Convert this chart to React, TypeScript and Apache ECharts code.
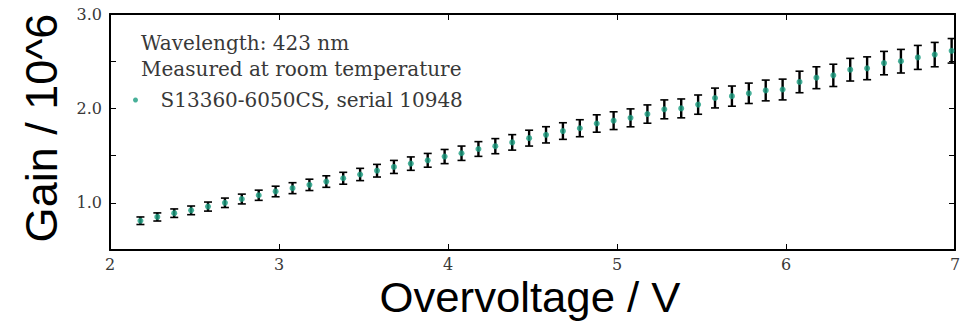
import React, { useEffect, useRef } from "react";
import * as echarts from "echarts";

const voltage = [
  2.18, 2.28, 2.38, 2.48, 2.58, 2.68, 2.78, 2.88, 2.98, 3.08,
  3.18, 3.28, 3.38, 3.48, 3.58, 3.68, 3.78, 3.88, 3.98, 4.08,
  4.18, 4.28, 4.38, 4.48, 4.58, 4.68, 4.78, 4.88, 4.98, 5.08,
  5.18, 5.28, 5.38, 5.48, 5.58, 5.68, 5.78, 5.88, 5.98, 6.08,
  6.18, 6.28, 6.38, 6.48, 6.58, 6.68, 6.78, 6.88, 6.98,
];

const gain = [
  0.81, 0.85, 0.89, 0.92, 0.96, 1.0, 1.04, 1.08, 1.12, 1.155,
  1.19, 1.225, 1.26, 1.3, 1.34, 1.38, 1.415, 1.45, 1.49, 1.525,
  1.57, 1.6, 1.64, 1.685, 1.72, 1.76, 1.79, 1.84, 1.87, 1.9,
  1.94, 1.99, 2.0, 2.04, 2.11, 2.13, 2.16, 2.19, 2.2, 2.28,
  2.325, 2.35, 2.41, 2.425, 2.48, 2.5, 2.54, 2.57, 2.61,
];

const gainErr = [
  0.04, 0.043, 0.045, 0.046, 0.048, 0.05, 0.052, 0.054, 0.056, 0.058,
  0.06, 0.061, 0.063, 0.065, 0.067, 0.069, 0.071, 0.073, 0.075, 0.076,
  0.078, 0.08, 0.082, 0.084, 0.086, 0.088, 0.09, 0.092, 0.094, 0.095,
  0.097, 0.1, 0.1, 0.102, 0.105, 0.107, 0.108, 0.11, 0.11, 0.114,
  0.116, 0.118, 0.12, 0.121, 0.124, 0.125, 0.127, 0.129, 0.13,
];

const legendLines = ["Wavelength: 423 nm", "Measured at room temperature"];
const seriesName = "S13360-6050CS, serial 10948";
const xTitle = "Overvoltage / V";
const yTitle = "Gain / 10^6";

const SERIF = "DejaVu Serif";
const SANS = "Liberation Sans";
const TEXT_GRAY = "#383838";
const TEAL = "#1a9c80";

export default function App() {
  const ref = useRef<HTMLDivElement>(null);

  useEffect(() => {
    if (!ref.current) return;
    const chart = echarts.init(ref.current, undefined, { renderer: "svg" });

    const points = voltage.map((v, i) => [v, gain[i]]);
    const bars = voltage.map((v, i) => [v, gain[i] - gainErr[i], gain[i] + gainErr[i]]);

    const axisLine = { show: true, lineStyle: { color: "#000", width: 2 } };
    const axisTick = { show: true, inside: true, length: 6, lineStyle: { color: "#000", width: 1 } };

    chart.setOption({
      animation: false,
      backgroundColor: "#fff",
      grid: { left: 110, right: 19, top: 14, bottom: 75, containLabel: false },
      xAxis: [
        {
          type: "value",
          min: 2,
          max: 7,
          interval: 1,
          position: "bottom",
          axisLine,
          axisTick,
          splitLine: { show: false },
          axisLabel: { color: TEXT_GRAY, fontFamily: SERIF, fontSize: 16, margin: 6 },
        },
        {
          type: "value",
          min: 2,
          max: 7,
          interval: 1,
          position: "top",
          axisLine,
          axisTick,
          splitLine: { show: false },
          axisLabel: { show: false },
        },
      ],
      yAxis: [
        {
          type: "value",
          min: 0.5,
          max: 3.0,
          interval: 0.5,
          position: "left",
          axisLine,
          axisTick,
          splitLine: { show: false },
          axisLabel: {
            color: TEXT_GRAY,
            fontFamily: SERIF,
            fontSize: 16,
            margin: 8,
            formatter: (v: number) => (Math.abs(v - Math.round(v)) < 1e-9 ? v.toFixed(1) : ""),
          },
        },
        {
          type: "value",
          min: 0.5,
          max: 3.0,
          interval: 0.5,
          position: "right",
          axisLine,
          axisTick,
          splitLine: { show: false },
          axisLabel: { show: false },
        },
      ],
      legend: {
        show: true,
        left: 133,
        top: 90,
        padding: 0,
        icon: "circle",
        itemWidth: 40,
        itemHeight: 5,
        data: [seriesName],
        textStyle: { color: TEXT_GRAY, fontFamily: SERIF, fontSize: 20 },
      },
      graphic: [
        {
          type: "text",
          left: 141,
          top: 33,
          style: { text: legendLines[0], fill: TEXT_GRAY, font: `20px "${SERIF}"` },
        },
        {
          type: "text",
          left: 141,
          top: 59,
          style: { text: legendLines[1], fill: TEXT_GRAY, font: `20px "${SERIF}"` },
        },
        {
          type: "text",
          x: 530,
          y: 297,
          scaleX: 1.04,
          style: {
            text: xTitle,
            fill: "#000",
            font: `42px "${SANS}"`,
            textAlign: "center",
            textVerticalAlign: "middle",
          },
        },
        {
          type: "text",
          x: 41,
          y: 128,
          rotation: Math.PI / 2,
          style: {
            text: yTitle,
            fill: "#000",
            font: `45px "${SANS}"`,
            textAlign: "center",
            textVerticalAlign: "middle",
          },
        },
      ],
      series: [
        {
          type: "custom",
          name: "errors",
          xAxisIndex: 0,
          yAxisIndex: 0,
          data: bars,
          z: 2,
          clip: false,
          renderItem: (params: any, api: any) => {
            const x = api.value(0);
            const lo = api.coord([x, api.value(1)]);
            const hi = api.coord([x, api.value(2)]);
            const cap = 4;
            return {
              type: "group",
              children: [
                { type: "line", shape: { x1: lo[0], y1: lo[1], x2: hi[0], y2: hi[1] }, style: { stroke: "#000", lineWidth: 2.4 } },
                { type: "line", shape: { x1: lo[0] - cap, y1: lo[1], x2: lo[0] + cap, y2: lo[1] }, style: { stroke: "#000", lineWidth: 1.6 } },
                { type: "line", shape: { x1: hi[0] - cap, y1: hi[1], x2: hi[0] + cap, y2: hi[1] }, style: { stroke: "#000", lineWidth: 1.6 } },
              ],
            };
          },
        },
        {
          type: "scatter",
          name: seriesName,
          xAxisIndex: 0,
          yAxisIndex: 0,
          data: points,
          symbol: "circle",
          symbolSize: 6,
          z: 3,
          itemStyle: { color: TEAL },
          clip: false,
        },
      ],
    });

    return () => chart.dispose();
  }, []);

  return (
    <div
      ref={ref}
      style={{ position: "fixed", left: 0, top: 0, width: 974, height: 325, background: "#fff" }}
    />
  );
}
